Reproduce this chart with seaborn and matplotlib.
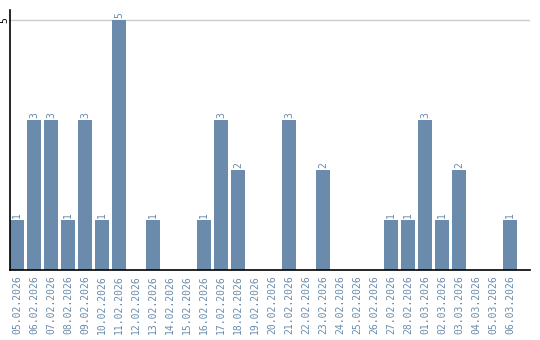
import matplotlib
matplotlib.use("Agg")
import matplotlib.pyplot as plt
import seaborn as sns
import pandas as pd

dates = ["05.02.2026", "06.02.2026", "07.02.2026", "08.02.2026", "09.02.2026",
         "10.02.2026", "11.02.2026", "12.02.2026", "13.02.2026", "14.02.2026",
         "15.02.2026", "16.02.2026", "17.02.2026", "18.02.2026", "19.02.2026",
         "20.02.2026", "21.02.2026", "22.02.2026", "23.02.2026", "24.02.2026",
         "25.02.2026", "26.02.2026", "27.02.2026", "28.02.2026", "01.03.2026",
         "02.03.2026", "03.03.2026", "04.03.2026", "05.03.2026", "06.03.2026"]
counts = [1, 3, 3, 1, 3, 1, 5, 0, 1, 0, 0, 1, 3, 2, 0, 0, 3, 0, 2, 0, 0, 0,
          1, 1, 3, 1, 2, 0, 0, 1]
y_ticks = [5]

df = pd.DataFrame({"date": dates, "count": counts})

sns.set_style("white")
plt.rcParams['font.family'] = ['DejaVu Sans Mono', 'DejaVu Sans']

bar_color = "#6a8bab"
fig = plt.figure(figsize=(5.4, 3.4), dpi=100)
ax = fig.add_axes([10/540, 1 - 270/340, 520/540, 260/340])

sns.barplot(data=df, x="date", y="count", color=bar_color, width=0.82,
            saturation=1, linewidth=0, ax=ax)

ax.set_xlim(-0.41, 30.18)
ax.set_ylim(0, 5.2)
ax.set_xlabel("")
ax.set_ylabel("")

for i, v in enumerate(counts):
    if v > 0:
        ax.text(i, v + 0.04, str(v), rotation=90, ha="center", va="bottom",
                fontsize=7, color=bar_color)

ax.set_yticks(y_ticks)
ax.set_yticklabels([])
ax.tick_params(axis="y", length=0)
for t in y_ticks:
    ax.text(-5.5/520, t, str(t), transform=ax.get_yaxis_transform(),
            rotation=90, ha="center", va="center", fontsize=7, color="black")
ax.tick_params(axis="x", length=0, pad=4)
ax.set_xticks(range(len(dates)))
ax.set_xticklabels(dates, rotation=90, fontsize=7, color=bar_color)
for t in y_ticks:
    ax.axhline(t, color="#cccccc", lw=1, zorder=0)

for s in ["top", "right"]:
    ax.spines[s].set_visible(False)
for s in ["left", "bottom"]:
    ax.spines[s].set_color("black")
    ax.spines[s].set_linewidth(1.2)

fig.savefig("out.png", dpi=100)
